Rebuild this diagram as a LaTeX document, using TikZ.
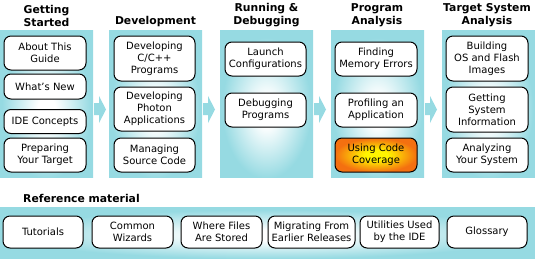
\documentclass[tikz,border=0pt]{standalone}
\usepackage{fontspec}
\setmainfont{DejaVu Sans}
\usetikzlibrary{calc}
\definecolor{panelcyan}{RGB}{150,218,226}
\definecolor{codeyellow}{RGB}{255,244,0}
\definecolor{codeorange}{RGB}{244,112,16}
\pgfdeclareradialshading{panelglow}{\pgfpoint{0bp}{-3bp}}{color(0bp)=(white); color(5bp)=(white); color(24bp)=(panelcyan); color(50bp)=(panelcyan)}
\pgfdeclareradialshading{hotglow}{\pgfpoint{0bp}{0bp}}{color(0bp)=(codeyellow); color(7bp)=(codeyellow); color(25bp)=(codeorange); color(50bp)=(codeorange)}
\tikzset{
  panel/.style={rectangle, inner sep=0pt, outer sep=0pt, shade, shading=panelglow, anchor=north west},
  topic/.style={draw, fill=white, rounded corners=7pt, line width=1pt, align=center, inner sep=0pt,
    font=\fontsize{10}{12}\selectfont, minimum width=81pt},
  hotTopic/.style={topic, shade, shading=hotglow},
  header/.style={font=\fontsize{10.8}{13}\selectfont\bfseries, align=center, anchor=south, inner sep=0pt},
  flowarrow/.style={fill=panelcyan}
}

\begin{document}
\begin{tikzpicture}[x=1pt, y=-1pt]
    \useasboundingbox (0,0) rectangle (535,258);

    % Column panels
    \node[panel, minimum width=93pt, minimum height=147pt] (gs) at (0,30) {};
    \node[panel, minimum width=93pt, minimum height=147pt] (dev) at (109,30) {};
    \node[panel, minimum width=93pt, minimum height=147pt] (rundbg) at (220,30) {};
    \node[panel, minimum width=93pt, minimum height=147pt] (proga) at (331,30) {};
    \node[panel, minimum width=93pt, minimum height=147pt] (tgtsys) at (442,30) {};

    % Flow arrows between panels
    \foreach \a/\b in {gs/dev, dev/rundbg, rundbg/proga, proga/tgtsys} {
      \fill[flowarrow] ($(\a.east)+(1,-0.5)$) -- ++(5,0) -- ++(0,-7) -- ++(7,13.5)
        -- ++(-7,13.5) -- ++(0,-8) -- ++(-5,0) -- cycle;
    }

    % Column headers
    \node[header] (gsHead) at (46.5,27) {Getting\\Started};
    \node[header] (devHead) at (155.5,27) {Development};
    \node[header] (runHead) at (266.5,27) {Running \&\\Debugging};
    \node[header] (anaHead) at (377,27) {Program\\Analysis};
    \node[header] (tgtHead) at (487,27) {Target System\\Analysis};

    % Getting Started
    \node[topic, minimum width=82pt, minimum height=34pt] (about) at (45,53) {About This\\Guide};
    \node[topic, minimum width=82pt, minimum height=25pt] (whatsnew) at (45,86.5) {What's New};
    \node[topic, minimum width=82pt, minimum height=24pt] (ideconc) at (45,121.5) {IDE Concepts};
    \node[topic, minimum width=82pt, minimum height=34pt] (preptgt) at (45,155) {Preparing\\Your Target};

    % Development
    \node[topic, minimum height=45pt] (devcpp) at (154.5,58.5) {Developing\\C/C++\\Programs};
    \node[topic, minimum height=44pt] (devph) at (154.5,109) {Developing\\Photon\\Applications};
    \node[topic, minimum height=34pt] (srcctl) at (154.5,155) {Managing\\Source Code};

    % Running & Debugging
    \node[topic, minimum height=34pt] (launch) at (265.5,59) {Launch\\Configurations};
    \node[topic, minimum height=34pt] (debug) at (265.5,110) {Debugging\\Programs};

    % Program Analysis
    \node[topic, minimum width=82pt, minimum height=34pt] (memerr) at (376,59) {Finding\\Memory Errors};
    \node[topic, minimum width=82pt, minimum height=34pt] (profile) at (376,110) {Profiling an\\Application};
    \node[hotTopic, minimum width=82pt, minimum height=34pt] (coverage) at (376,155) {Using Code\\Coverage};

    % Target System Analysis
    \node[topic, minimum width=82pt, minimum height=45pt] (buildos) at (487,58.5) {Building\\OS and Flash\\Images};
    \node[topic, minimum width=82pt, minimum height=45pt] (sysinfo) at (487,109.5) {Getting\\System\\Information};
    \node[topic, minimum width=82pt, minimum height=34pt] (analyze) at (487,155) {Analyzing\\Your System};

    % Reference material strip
    \node[header, anchor=west] (refHead) at (23,198) {Reference material};
    \node[panel, minimum width=535pt, minimum height=51pt] (refbar) at (0,207) {};
    \node[topic, minimum width=80pt, minimum height=32pt] (tutorials) at (43,232) {Tutorials};
    \node[topic, minimum width=81pt, minimum height=32pt] (wizards) at (132.5,232) {Common\\Wizards};
    \node[topic, minimum width=81pt, minimum height=32pt] (files) at (221.5,232) {Where Files\\Are Stored};
    \node[topic, minimum width=87pt, minimum height=32pt] (migrate) at (311.5,232) {Migrating From\\Earlier Releases};
    \node[topic, minimum width=79pt, minimum height=32pt] (utils) at (399.5,232) {Utilities Used\\by the IDE};
    \node[topic, minimum width=80pt, minimum height=32pt] (glossary) at (487,232) {Glossary};
  \end{tikzpicture}
\end{document}
